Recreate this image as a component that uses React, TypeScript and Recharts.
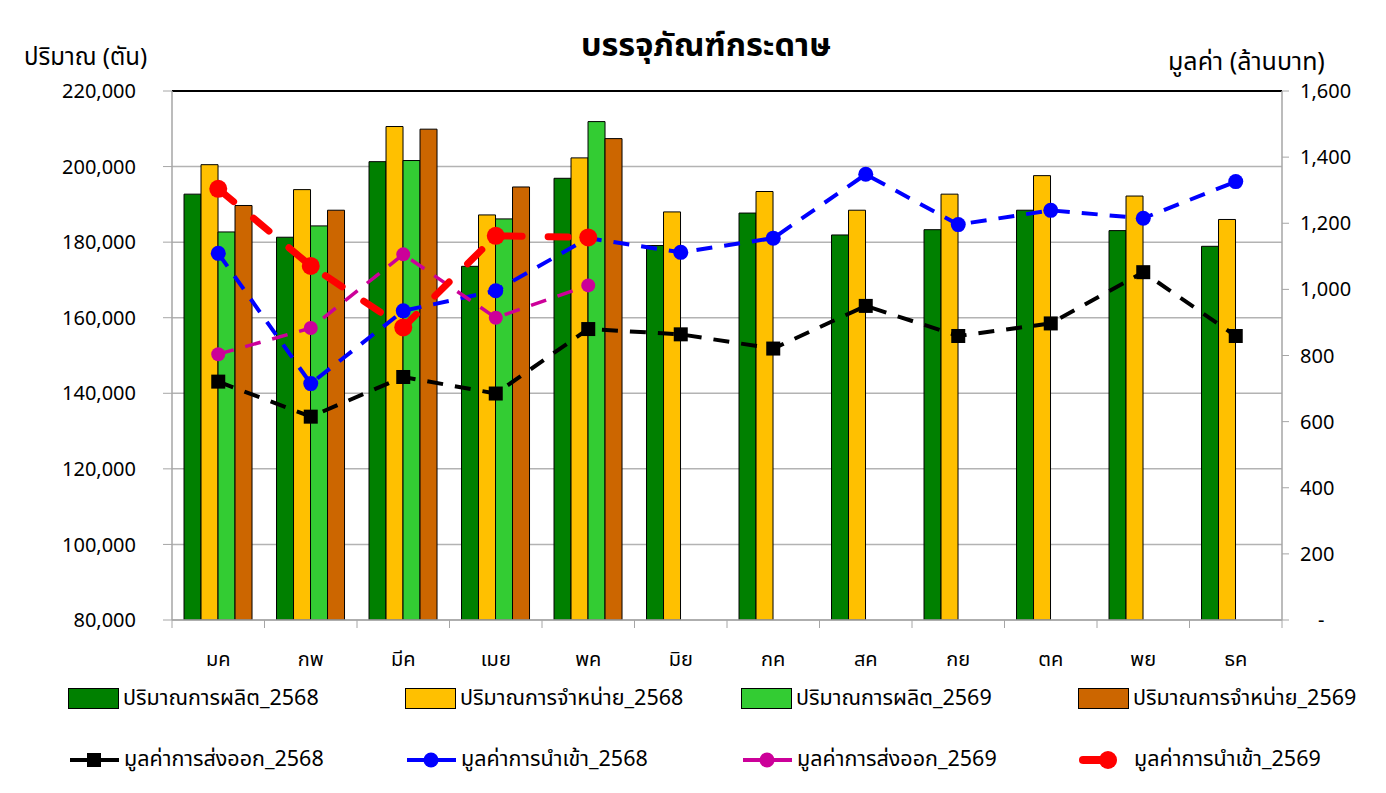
import React from 'react';
import { ComposedChart, Bar, Line, XAxis, YAxis, CartesianGrid, ReferenceLine } from 'recharts';

// ข้อมูลรายเดือน (อ่านค่าจากกราฟ)
const MONTHS = ['มค', 'กพ', 'มีค', 'เมย', 'พค', 'มิย', 'กค', 'สค', 'กย', 'ตค', 'พย', 'ธค'];
const PROD_2568 = [192700, 181300, 201300, 173600, 196900, 179100, 187700, 181900, 183300, 188450, 183050, 178900];
const SALES_2568 = [200500, 193900, 210600, 187200, 202300, 188000, 193400, 188450, 192700, 197600, 192200, 186000];
const PROD_2569 = [182700, 184300, 201600, 186150, 211900];
const SALES_2569 = [189700, 188450, 209900, 194600, 207400];
const EXPORT_2568 = [721, 615, 735, 685, 880, 864, 821, 950, 859, 897, 1052, 859];
const IMPORT_2568 = [1109, 715, 935, 996, 1155, 1112, 1155, 1348, 1196, 1239, 1215, 1326];
const EXPORT_2569 = [804, 883, 1106, 914, 1012];
const IMPORT_2569 = [1304, 1071, 885, 1162, 1157];
const LEFT_TICKS = [80000, 100000, 120000, 140000, 160000, 180000, 200000, 220000];
const RIGHT_TICKS = [0, 200, 400, 600, 800, 1000, 1200, 1400, 1600];

const FONT = "Tahoma, 'Noto Sans Thai', 'Noto Sans', 'DejaVu Sans', sans-serif";

const data = MONTHS.map((m, i) => ({
  month: m,
  prod68: PROD_2568[i],
  sales68: SALES_2568[i],
  prod69: PROD_2569[i] ?? null,
  sales69: SALES_2569[i] ?? null,
  exp68: EXPORT_2568[i],
  imp68: IMPORT_2568[i],
  exp69: EXPORT_2569[i] ?? null,
  imp69: IMPORT_2569[i] ?? null,
}));

const W = 1386;
const H = 690;
const M = { top: 91, right: 0, left: 0, bottom: 20 };
const LEFT_W = 172;
const RIGHT_W = 104;
const BAND = (W - LEFT_W - RIGHT_W) / MONTHS.length;

const fmt = (v: number) => v.toLocaleString('en-US');

function MonthTick({ x, y, payload, index }: any) {
  const half = BAND / 2;
  return (
    <g>
      <line x1={x - half} y1={y - 8} x2={x - half} y2={y} stroke="#a6a6a6" />
      {index === MONTHS.length - 1 && (
        <line x1={x + half} y1={y - 8} x2={x + half} y2={y} stroke="#a6a6a6" />
      )}
      <text x={x} y={y + 38} textAnchor="middle" fontSize={20} fontFamily={FONT} fill="#000">
        {payload.value}
      </text>
    </g>
  );
}

function RightTick({ x, y, payload }: any) {
  const v = payload.value;
  return (
    <text x={v === 0 ? x + 18 : x} y={y} dy={7} textAnchor="start" fontSize={20} fontFamily={FONT} fill="#000">
      {v === 0 ? '-' : fmt(v)}
    </text>
  );
}

function SquareDot({ cx, cy, index }: any) {
  if (cx == null || cy == null) return <g key={index} />;
  return <rect key={index} x={cx - 7} y={cy - 7} width={14} height={14} fill="#000" />;
}

const circleDot = (color: string, r: number) => ({ cx, cy, index }: any) => {
  if (cx == null || cy == null) return <g key={index} />;
  return <circle key={index} cx={cx} cy={cy} r={r} fill={color} />;
};

const BAR_LEGEND = [
  { name: 'ปริมาณการผลิต_2568', color: '#008000' },
  { name: 'ปริมาณการจำหน่าย_2568', color: '#FFC000' },
  { name: 'ปริมาณการผลิต_2569', color: '#33CC33' },
  { name: 'ปริมาณการจำหน่าย_2569', color: '#CC6600' },
];
const LINE_LEGEND = [
  { name: 'มูลค่าการส่งออก_2568', color: '#000', mark: 'square' },
  { name: 'มูลค่าการนำเข้า_2568', color: '#0000FF', mark: 'circle' },
  { name: 'มูลค่าการส่งออก_2569', color: '#CC0099', mark: 'circle' },
  { name: 'มูลค่าการนำเข้า_2569', color: '#FF0000', mark: 'red' },
];
const LEGEND_X = [68, 405, 741, 1078];

export default function App() {
  return (
    <div style={{ position: 'absolute', left: 0, top: 0, width: W, height: 793, background: '#fff', fontFamily: FONT }}>
      <div style={{ position: 'absolute', left: 0, width: W, top: 22, textAlign: 'center', fontSize: 32.5, fontWeight: 700, paddingLeft: 26, boxSizing: 'border-box' }}>
        บรรจุภัณฑ์กระดาษ
      </div>
      <div style={{ position: 'absolute', left: 24, top: 40, fontSize: 24 }}>ปริมาณ (ตัน)</div>
      <div style={{ position: 'absolute', left: 1168, top: 49, fontSize: 25, lineHeight: '26px' }}>มูลค่า (ล้านบาท)</div>

      <div style={{ position: 'absolute', left: 0, top: 0 }}>
        <ComposedChart width={W} height={H} data={data} margin={M} barCategoryGap="13%" barGap={0}>
          <CartesianGrid yAxisId="left" vertical={false} stroke="#b3b3b3" strokeWidth={1.5} />
          <XAxis
            dataKey="month"
            height={50}
            axisLine={{ stroke: '#a6a6a6', strokeWidth: 1.5 }}
            tickLine={false}
            tick={<MonthTick />}
            interval={0}
          />
          <YAxis
            yAxisId="left"
            width={LEFT_W}
            domain={[80000, 220000]}
            ticks={LEFT_TICKS}
            tickFormatter={fmt}
            axisLine={{ stroke: '#a6a6a6', strokeWidth: 1.5 }}
            tickLine={{ stroke: '#a6a6a6' }}
            tickSize={9}
            tickMargin={27}
            tick={{ fontSize: 20, fill: '#000', fontFamily: FONT }}
            allowDataOverflow
          />
          <YAxis
            yAxisId="right"
            orientation="right"
            width={RIGHT_W}
            domain={[0, 1600]}
            ticks={RIGHT_TICKS}
            axisLine={{ stroke: '#a6a6a6', strokeWidth: 1.5 }}
            tickLine={{ stroke: '#a6a6a6' }}
            tickSize={7}
            tickMargin={11}
            tick={<RightTick />}
          />
          <ReferenceLine yAxisId="left" y={220000} stroke="#000" strokeWidth={2} />
          <Bar yAxisId="left" dataKey="prod68" fill="#008000" stroke="#000" strokeWidth={1} isAnimationActive={false} />
          <Bar yAxisId="left" dataKey="sales68" fill="#FFC000" stroke="#000" strokeWidth={1} isAnimationActive={false} />
          <Bar yAxisId="left" dataKey="prod69" fill="#33CC33" stroke="#000" strokeWidth={1} isAnimationActive={false} />
          <Bar yAxisId="left" dataKey="sales69" fill="#CC6600" stroke="#000" strokeWidth={1} isAnimationActive={false} />
          <Line
            yAxisId="right"
            dataKey="exp68"
            stroke="#000"
            strokeWidth={4}
            strokeDasharray="16 12"
            dot={SquareDot}
            activeDot={false}
            isAnimationActive={false}
          />
          <Line
            yAxisId="right"
            dataKey="imp68"
            stroke="#0000FF"
            strokeWidth={4}
            strokeDasharray="16 12"
            dot={circleDot('#0000FF', 7.5)}
            activeDot={false}
            isAnimationActive={false}
          />
          <Line
            yAxisId="right"
            dataKey="exp69"
            stroke="#CC0099"
            strokeWidth={3.5}
            strokeDasharray="16 12"
            dot={circleDot('#CC0099', 7)}
            activeDot={false}
            isAnimationActive={false}
          />
          <Line
            yAxisId="right"
            dataKey="imp69"
            stroke="#FF0000"
            strokeWidth={7}
            strokeLinecap="round"
            strokeDasharray="20 26"
            dot={circleDot('#FF0000', 9)}
            activeDot={false}
            isAnimationActive={false}
          />
        </ComposedChart>
      </div>

      {BAR_LEGEND.map((it, i) => (
        <div key={it.name} style={{ position: 'absolute', left: LEGEND_X[i], top: 682, display: 'flex', alignItems: 'center', fontSize: 21.5 }}>
          <span style={{ display: 'inline-block', width: 49, height: 19, background: it.color, border: '1.5px solid #000', marginRight: 4 }} />
          <span>{it.name}</span>
        </div>
      ))}
      {LINE_LEGEND.map((it, i) => (
        <div key={it.name} style={{ position: 'absolute', left: LEGEND_X[i], top: 743, display: 'flex', alignItems: 'center', fontSize: 21.5 }}>
          <svg width={53} height={24} style={{ marginRight: 3 }}>
            {it.mark === 'red' ? (
              <>
                <line x1={5} y1={12} x2={30} y2={12} stroke={it.color} strokeWidth={8} strokeLinecap="round" />
                <circle cx={30} cy={12} r={9} fill={it.color} />
              </>
            ) : (
              <>
                <line x1={2} y1={12} x2={51} y2={12} stroke={it.color} strokeWidth={4} />
                {it.mark === 'square' ? (
                  <rect x={19} y={5} width={14} height={14} fill={it.color} />
                ) : (
                  <circle cx={26} cy={12} r={7.5} fill={it.color} />
                )}
              </>
            )}
          </svg>
          <span>{it.name}</span>
        </div>
      ))}
    </div>
  );
}
